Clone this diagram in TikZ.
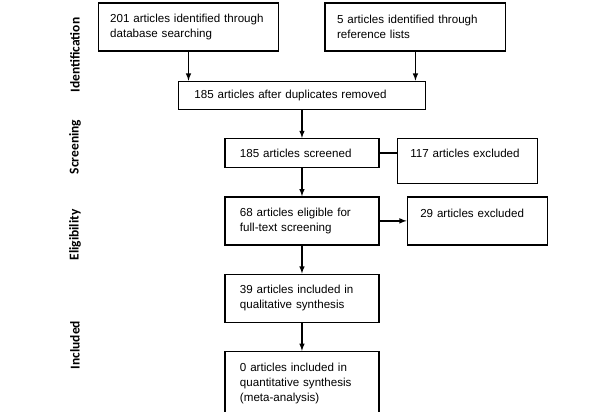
\documentclass[tikz,border=0pt]{standalone}
\usepackage{fontspec}
\setmainfont{Liberation Sans}
\newfontfamily\stagefont{Carlito}
\usetikzlibrary{positioning, calc}

\begin{document}
\begin{tikzpicture}[node distance=0.84cm, >=latex, line width=1.1pt,
    box/.style={draw, align=left, inner ysep=2pt, font=\fontsize{9.9}{12.8}\selectfont},
    topbox/.style={box, text width=4.7cm, inner xsep=0.36cm, minimum height=1.44cm},
    mainbox/.style={box, text width=3.72cm, inner xsep=0.45cm, minimum height=1.44cm},
    sidebox/.style={box, text width=3.42cm, inner xsep=0.39cm, text depth=0.45cm},
    stage/.style={rotate=90, font=\stagefont\bfseries\fontsize{11.5}{13}\selectfont}]
   \useasboundingbox (0,0) rectangle (18,-12.36);

   % stages
   \node[stage] (identlabel) at (2.25,-1.65) {Identification};
   \node[stage] (screenlabel) at (2.25,-4.41) {Screening};
   \node[stage] (eliglabel) at (2.25,-7.05) {Eligibility};
   \node[stage] (incllabel) at (2.25,-10.35) {Included};

   % boxes
   \node[topbox] (src1) at (5.655,-0.81) {201 articles identified through\\database searching};
   \node[topbox] (src2) [right=1.35cm of src1] {5 articles identified through\\reference lists};
   \coordinate (mid) at ($(src1.south)!0.5!(src2.south)$);
   \node[box, text width=6.45cm, inner xsep=0.48cm, minimum height=0.84cm] (dup) [below=0.87cm of mid] {185 articles after duplicates removed};
   \node[mainbox, minimum height=0.87cm] (scr) [below=of dup] {185 articles screened};
   \node[sidebox, minimum height=1.35cm] (exc1) [right=0.51cm of scr.north east, anchor=north west] {117 articles excluded};
   \node[mainbox] (elig) [below=of scr] {68 articles eligible for\\full-text screening};
   \node[sidebox, minimum height=1.44cm] (exc2) [right=0.81cm of elig] {29 articles excluded};
   \node[mainbox] (qual) [below=of elig] {39 articles included in\\qualitative synthesis};
   \node[mainbox, minimum height=1.9cm] (quant) [below=of qual] {0 articles included in\\quantitative synthesis\\(meta-analysis)};

   \path[->]
    (src1) edge (src1 |- dup.north)
    (src2) edge (src2 |- dup.north)
    (dup) edge (scr)
    (scr) edge[-] (scr -| exc1.west)
    (scr) edge (elig)
    (elig) edge (elig -| exc2.west)
    (elig) edge (qual)
    (qual) edge (quant);
\end{tikzpicture}
\end{document}
